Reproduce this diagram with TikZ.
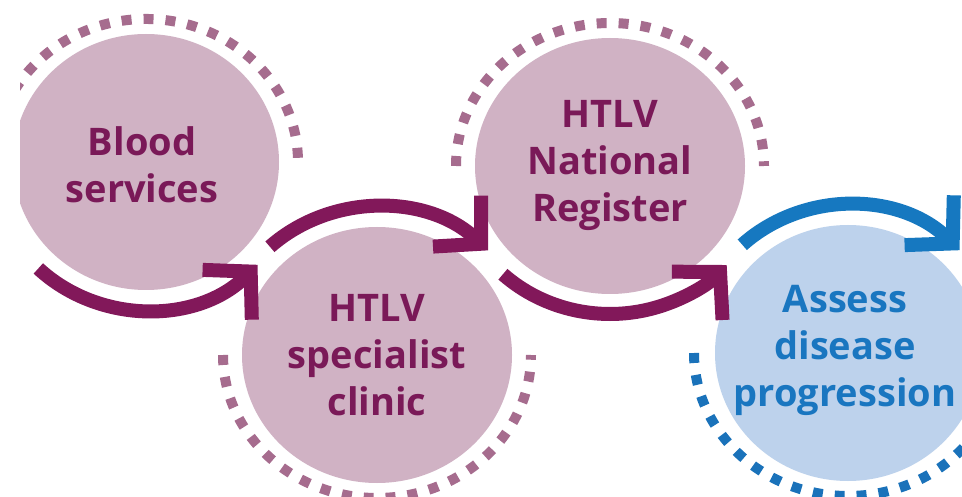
\documentclass[tikz,border=0pt]{standalone}
\usepackage{fontspec}
\setmainfont{Open Sans}
\usetikzlibrary{arrows.meta}
\definecolor{mauveFill}{RGB}{208,178,196}
\definecolor{dotP}{RGB}{166,108,142}
\definecolor{arrowPc}{RGB}{130,24,90}
\definecolor{textP}{RGB}{122,25,88}
\definecolor{blueFill}{RGB}{189,210,236}
\definecolor{blueA}{RGB}{22,120,192}
\definecolor{blueDot}{RGB}{26,114,186}
\definecolor{blueText}{RGB}{25,118,192}
\tikzset{
  dotsP/.style={draw=dotP, line width=10pt, dash pattern=on 10pt off 12pt},
  dotsB/.style={draw=blueDot, line width=10pt, dash pattern=on 10pt off 12pt},
  arrP/.style={draw=arrowPc, line width=14pt, -{Straight Barb[length=33pt, width=70pt, line width=14pt]}},
  arrB/.style={draw=blueA, line width=14pt, -{Straight Barb[length=33pt, width=70pt, line width=14pt]}},
  lbl/.style={align=center, font=\fontsize{38}{47}\selectfont\bfseries, inner sep=0pt},
}
\begin{document}
\begin{tikzpicture}[x=1pt, y=1pt]
\useasboundingbox (0,0) rectangle (962,-497);
\fill[white] (0,0) rectangle (962,-497);
\clip (20,0) rectangle (962,-497);
\coordinate (c1) at (146,-162);
\coordinate (c2) at (377,-355);
\coordinate (c3) at (610,-166);
\coordinate (c4) at (848,-353);
% circles
\fill[mauveFill] (c1) ellipse [x radius=133pt, y radius=128pt];
\fill[mauveFill] (c2) ellipse [x radius=135pt, y radius=128pt];
\fill[mauveFill] (c3) ellipse [x radius=135pt, y radius=128pt];
\fill[blueFill] (c4) ellipse [x radius=133pt, y radius=128pt];
% dotted arcs
\draw[dotsP, shift={(c1)}] (150:152pt and 143pt) arc[start angle=150, end angle=0, x radius=152pt, y radius=143pt];
\draw[dotsP, shift={(c2)}] (180:154pt and 143pt) arc[start angle=180, end angle=360, x radius=154pt, y radius=143pt];
\draw[dotsP, shift={(c3)}] (180:154pt and 143pt) arc[start angle=180, end angle=0, x radius=154pt, y radius=143pt];
\draw[dotsB, shift={(c4)}] (180:154pt and 143pt) arc[start angle=180, end angle=360, x radius=154pt, y radius=143pt];
% arrows
\draw[arrP, shift={(c1)}] (226:155pt and 148pt) arc[start angle=226, end angle=316, x radius=155pt, y radius=148pt];
\draw[arrP, shift={(c2)}] (133:157pt and 148pt) arc[start angle=133, end angle=45, x radius=157pt, y radius=148pt];
\draw[arrP, shift={(c3)}] (227:157pt and 148pt) arc[start angle=227, end angle=318, x radius=157pt, y radius=148pt];
\draw[arrB, shift={(c4)}] (133:155pt and 148pt) arc[start angle=133, end angle=44, x radius=155pt, y radius=148pt];
% labels
\node[lbl, text=textP] (t1) at ([xshift=-4pt, yshift=-3pt]c1) {Blood\\services};
\node[lbl, text=textP] (t2) at (c2) {HTLV\\specialist\\clinic};
\node[lbl, text=textP] (t3) at (c3) {HTLV\\National\\Register};
\node[lbl, text=blueText] (t4) at ([xshift=-3pt, yshift=3pt]c4) {Assess\\disease\\progression};
\end{tikzpicture}
\end{document}
